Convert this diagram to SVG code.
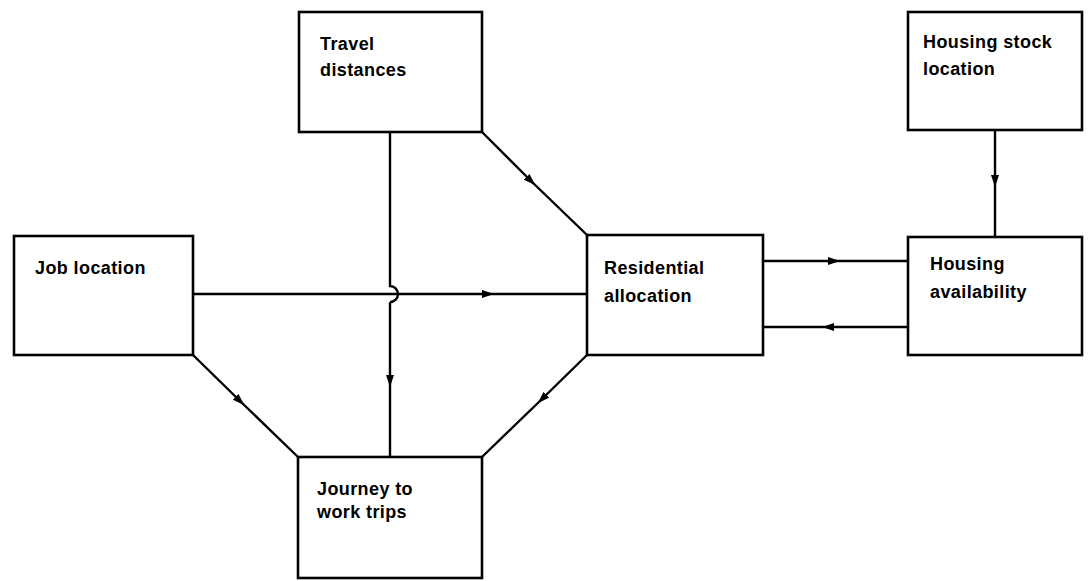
<svg xmlns="http://www.w3.org/2000/svg" width="1092" height="581" viewBox="0 0 1092 581">
<style>
.box{fill:#fff;stroke:#000;stroke-width:2.6}
.lbl{font-family:"Liberation Sans",Arial,sans-serif;font-size:18px;font-weight:bold;fill:#000;letter-spacing:0.4px}
.con{fill:none;stroke:#000;stroke-width:2.4}
</style>
<defs>
<marker id="arr" markerUnits="userSpaceOnUse" markerWidth="12" markerHeight="9" refX="6" refY="4.5" orient="auto">
<path d="M0,0.5 L12,4.5 L0,8.5 z" fill="#000"/>
</marker>
</defs>
<rect width="1092" height="581" fill="#fff"/>
<g id="connectors">
<path class="con" d="M390,132 L390,286 A8,8 0 0 1 390,302"/>
<path class="con" d="M390,302 L390,381 L390,457" marker-mid="url(#arr)"/>
<path class="con" d="M482,132 L531,181 L587,235" marker-mid="url(#arr)"/>
<path class="con" d="M193,294 L488,294 L587,294" marker-mid="url(#arr)"/>
<path class="con" d="M193,355 L240,401 L298,457" marker-mid="url(#arr)"/>
<path class="con" d="M587,355 L542,399 L482,457" marker-mid="url(#arr)"/>
<path class="con" d="M995,130 L995,181 L995,237" marker-mid="url(#arr)"/>
<path class="con" d="M763,261 L834,261 L908,261" marker-mid="url(#arr)"/>
<path class="con" d="M908,327 L828,327 L763,327" marker-mid="url(#arr)"/>
</g>
<g id="travel">
<rect class="box" x="299" y="12" width="183" height="120"/>
<text class="lbl" x="320" y="50">Travel</text>
<text class="lbl" x="320" y="76">distances</text>
</g>
<g id="housingstock">
<rect class="box" x="908" y="12" width="174" height="118"/>
<text class="lbl" x="923" y="48">Housing stock</text>
<text class="lbl" x="923" y="75">location</text>
</g>
<g id="job">
<rect class="box" x="14" y="236" width="179" height="119"/>
<text class="lbl" x="35" y="274">Job location</text>
</g>
<g id="residential">
<rect class="box" x="587" y="235" width="176" height="120"/>
<text class="lbl" x="604" y="274">Residential</text>
<text class="lbl" x="604" y="302">allocation</text>
</g>
<g id="availability">
<rect class="box" x="908" y="237" width="174" height="118"/>
<text class="lbl" x="930" y="270">Housing</text>
<text class="lbl" x="930" y="298">availability</text>
</g>
<g id="journey">
<rect class="box" x="298" y="457" width="184" height="121"/>
<text class="lbl" x="317" y="495">Journey to</text>
<text class="lbl" x="317" y="518">work trips</text>
</g>
</svg>
